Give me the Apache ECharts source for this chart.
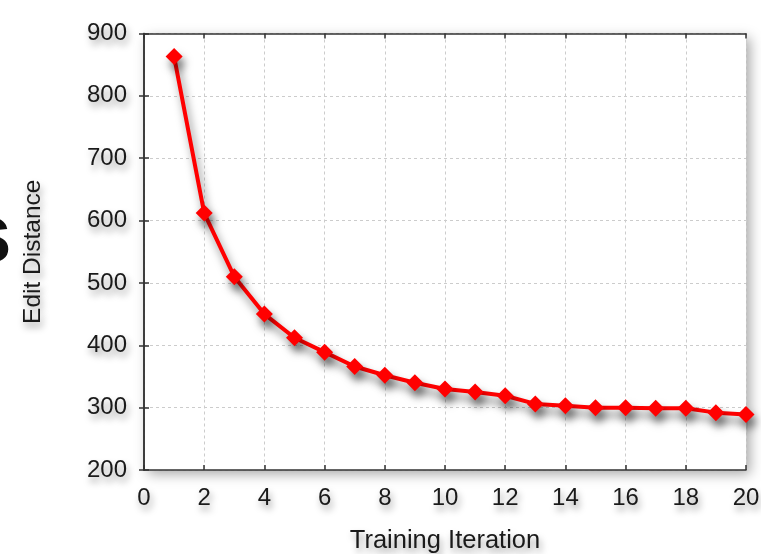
<!DOCTYPE html>
<html>
<head>
<meta charset="utf-8">
<script src="https://cdn.jsdelivr.net/npm/echarts@6/dist/echarts.min.js"></script>
<style>
html,body{margin:0;padding:0;background:#fff;}
#chart{width:761px;height:554px;}
</style>
</head>
<body>
<div id="chart"></div>
<script>
const iterations = [1,2,3,4,5,6,7,8,9,10,11,12,13,14,15,16,17,18,19,20];
const editDistance = [863,612,510,450,412,389,366,352,340,330,325,319,306,303,300,300,299,299,292,289];
const xTicks = [0,2,4,6,8,10,12,14,16,18,20];
const yTicks = [200,300,400,500,600,700,800,900];
const xTitle = 'Training Iteration';
const yTitle = 'Edit Distance';

const chart = echarts.init(document.getElementById('chart'));
const font = '"Liberation Sans", Arial, sans-serif';
const txtShadow = {textShadowColor:'rgba(0,0,0,0.4)', textShadowBlur:7, textShadowOffsetX:2, textShadowOffsetY:5};
const axisLine = {show:true, lineStyle:{color:'#333', width:1.5}};
const tick = {show:true, inside:true, length:5, lineStyle:{color:'#333', width:1.5}};
const split = {show:true, lineStyle:{color:'#ccc', type:[3,3], width:1}};

chart.setOption({
  animation:false,
  backgroundColor:'#fff',
  grid:{left:144, right:15, top:33.5, bottom:84, outerBoundsMode:'none', containLabel:false,
        show:true, backgroundColor:'#fff', borderWidth:0,
        shadowColor:'rgba(0,0,0,0.35)', shadowBlur:12, shadowOffsetX:4, shadowOffsetY:4},
  graphic:[{type:'text', left:-35, top:197, style:{text:'s', font:'bold 84px "Liberation Sans", Arial', fill:'#111'}}],
  xAxis:[{
    type:'value', min:xTicks[0], max:xTicks[xTicks.length-1], interval:2,
    axisLine:axisLine, axisTick:tick, splitLine:split,
    axisLabel:Object.assign({color:'#1a1a1a', fontSize:24, fontFamily:font, margin:16,
      formatter:v=>xTicks.includes(v)?String(v):''}, txtShadow),
    name:xTitle, nameLocation:'middle', nameGap:58,
    nameTextStyle:Object.assign({color:'#1a1a1a', fontSize:25.5, fontFamily:font}, txtShadow)
  },{
    type:'value', position:'top', min:0, max:20, interval:2,
    axisLine:axisLine, axisTick:tick, splitLine:{show:false}, axisLabel:{show:false}
  }],
  yAxis:[{
    type:'value', min:yTicks[0], max:yTicks[yTicks.length-1], interval:100,
    axisLine:axisLine, axisTick:tick, splitLine:split,
    axisLabel:Object.assign({color:'#1a1a1a', fontSize:24, fontFamily:font, margin:17,
      formatter:v=>yTicks.includes(v)?String(v):''}, txtShadow),
    name:yTitle, nameLocation:'middle', nameGap:98, nameRotate:90,
    nameTextStyle:Object.assign({color:'#1a1a1a', fontSize:24.5, fontFamily:font}, txtShadow)
  },{
    type:'value', position:'right', min:200, max:900, interval:100,
    axisLine:axisLine, axisTick:tick, splitLine:{show:false}, axisLabel:{show:false}
  }],
  series:[{
    type:'line', xAxisIndex:0, yAxisIndex:0,
    data:iterations.map((x,i)=>[x, editDistance[i]]),
    symbol:'diamond', symbolSize:17, showSymbol:true,
    lineStyle:{color:'#ff0000', width:4, shadowColor:'rgba(0,0,0,0.5)', shadowBlur:9, shadowOffsetX:3, shadowOffsetY:7},
    itemStyle:{color:'#ff0000', shadowColor:'rgba(0,0,0,0.5)', shadowBlur:9, shadowOffsetX:3, shadowOffsetY:7},
    clip:false
  }]
});
</script>
</body>
</html>
